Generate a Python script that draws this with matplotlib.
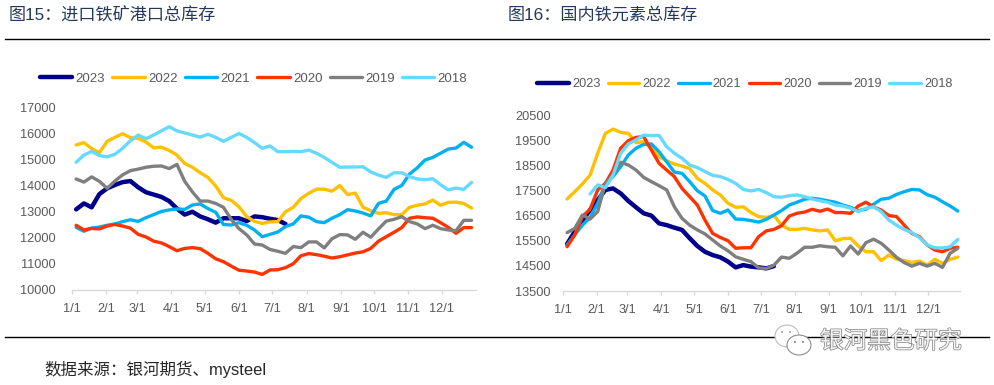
import numpy as np
import matplotlib
matplotlib.use('Agg')
import matplotlib.pyplot as plt
import matplotlib.patheffects as pe
from matplotlib.patches import Ellipse, Circle

plt.rcParams['font.family'] = ['Liberation Sans', 'Noto Sans CJK SC', 'DejaVu Sans']

W, H = 995, 385

# 月初の位置(日)とラベル
month_days = [0, 31, 59, 90, 120, 151, 181, 212, 243, 273, 304, 334]
month_labels = ['1/1', '2/1', '3/1', '4/1', '5/1', '6/1', '7/1', '8/1', '9/1', '10/1', '11/1', '12/1']
week_days = [4 + 7 * i for i in range(52)]

years = ['2023', '2022', '2021', '2020', '2019', '2018']
colors = ['#00008B', '#FFC000', '#00B0F0', '#FF3300', '#7F7F7F', '#66D9FF']
widths = [3.2, 2.4, 2.4, 2.4, 2.4, 2.4]

# 図15 進口铁矿港口总库存
port_2023 = [13100, 13330, 13180, 13690, 13910, 14040, 14150, 14190, 13950, 13760, 13670, 13580, 13420, 13130,
             12900, 13010, 12830, 12720, 12590, 12760, 12760, 12760, 12650, 12830, 12800, 12740, 12690, 12540]
port_2022 = [15580, 15670, 15440, 15280, 15720, 15870, 16010, 15860, 15830, 15690, 15470, 15490, 15370, 15190,
             14870, 14720, 14510, 14330, 14000, 13550, 13450, 13200, 12820, 12640, 12560, 12620, 12630, 13010,
             13180, 13520, 13720, 13880, 13880, 13800, 14020, 13670, 13730, 13180, 13050, 12950, 12970, 12900,
             12900, 13180, 13260, 13310, 13460, 13260, 13370, 13380, 13330, 13150]
port_2021 = [12410, 12260, 12380, 12420, 12490, 12540, 12630, 12700, 12640, 12780, 12900, 13020, 13080, 13120,
             13100, 13270, 13310, 13130, 12990, 12520, 12500, 12590, 12490, 12310, 12050, 12140, 12230, 12440,
             12540, 12850, 12800, 12630, 12590, 12760, 12900, 13090, 13040, 12960, 12850, 13330, 13420, 13870,
             14020, 14460, 14700, 15000, 15100, 15260, 15420, 15460, 15680, 15490]
port_2020 = [12490, 12310, 12370, 12350, 12460, 12520, 12460, 12380, 12140, 12040, 11880, 11810, 11670, 11510,
             11600, 11630, 11590, 11410, 11200, 11090, 10920, 10760, 10730, 10690, 10600, 10770, 10780, 10860,
             11010, 11320, 11400, 11360, 11300, 11230, 11280, 11350, 11420, 11470, 11600, 11880, 12050, 12220,
             12400, 12760, 12810, 12780, 12760, 12590, 12410, 12180, 12400, 12400]
port_2019 = [14270, 14150, 14350, 14180, 13910, 14190, 14430, 14590, 14650, 14720, 14760, 14770, 14670, 14830,
             14180, 13770, 13420, 13420, 13330, 13180, 12720, 12360, 12120, 11770, 11730, 11560, 11490, 11410,
             11670, 11630, 11850, 11850, 11620, 11970, 12130, 12120, 11950, 12220, 12030, 12350, 12650, 12720,
             12820, 12630, 12540, 12360, 12490, 12360, 12310, 12280, 12680, 12680]
port_2018 = [14910, 15190, 15330, 15170, 15120, 15220, 15450, 15740, 15960, 15820, 15960, 16120, 16280, 16120,
             16040, 15960, 15880, 15990, 15870, 15720, 15870, 16020, 15870, 15670, 15450, 15540, 15320, 15320,
             15330, 15320, 15380, 15260, 15100, 14910, 14720, 14730, 14730, 14740, 14540, 14420, 14330, 14510,
             14510, 14360, 14270, 14240, 14280, 14050, 13850, 13920, 13870, 14140]
port_series = [port_2023, port_2022, port_2021, port_2020, port_2019, port_2018]
port_ticks = [10000, 11000, 12000, 13000, 14000, 15000, 16000, 17000]

# 図16 国内铁元素总库存
iron_2023 = [15370, 15860, 16320, 16720, 17120, 17520, 17580, 17380, 17080, 16830, 16590, 16500, 16190, 16120,
             16020, 15930, 15600, 15290, 15060, 14930, 14840, 14670, 14440, 14530, 14470, 14440, 14400, 14490]
iron_2022 = [17160, 17450, 17760, 18110, 18980, 19770, 19940, 19810, 19770, 19400, 19440, 19180, 18840, 18680,
             18550, 18470, 18370, 17980, 17780, 17520, 17320, 16990, 16830, 16850, 16620, 16460, 16430, 16500,
             16120, 15950, 15950, 15990, 15930, 15890, 15930, 15500, 15580, 15600, 15290, 15060, 15060, 14710,
             14930, 14770, 14710, 14640, 14690, 14530, 14760, 14600, 14760, 14850]
iron_2021 = [15330, 15730, 16120, 16420, 16990, 17780, 18050, 18450, 18910, 19180, 19330, 19350, 19040, 18640,
             18230, 18180, 17850, 17490, 17280, 16700, 16590, 16720, 16360, 16350, 16300, 16240, 16350, 16520,
             16700, 16920, 17030, 17150, 17190, 17150, 17090, 17030, 16920, 16830, 16700, 16750, 16950, 17150,
             17190, 17340, 17450, 17540, 17520, 17330, 17230, 17050, 16880, 16680]
iron_2020 = [15260, 15730, 16460, 16750, 17520, 17780, 18310, 19180, 19480, 19610, 19640, 19110, 18580, 18310,
             18050, 17580, 17250, 16920, 16320, 15790, 15630, 15500, 15200, 15220, 15220, 15660, 15890, 15950,
             16100, 16480, 16590, 16640, 16750, 16670, 16760, 16620, 16620, 16590, 16880, 17030, 16850, 16720,
             16500, 16460, 16120, 15790, 15660, 15330, 15130, 15060, 15200, 15240]
iron_2019 = [15820, 15990, 16520, 16360, 16660, 17780, 18110, 18620, 18510, 18310, 18020, 17850, 17690, 17520,
             16850, 16390, 16120, 15930, 15770, 15530, 15290, 15100, 14860, 14760, 14670, 14420, 14390, 14530,
             14850, 14800, 15000, 15240, 15240, 15300, 15260, 15240, 14900, 15290, 14970, 15420, 15560, 15400,
             15130, 14840, 14630, 14490, 14600, 14490, 14600, 14440, 15000, 15200]
iron_2018 = [None, None, None, 17360, 17720, 17610, 18110, 18980, 19350, 19510, 19700, 19680, 19690, 19240,
             18980, 18780, 18510, 18410, 18250, 18100, 18050, 17940, 17780, 17540, 17480, 17540, 17410, 17250,
             17230, 17290, 17320, 17250, 17160, 17090, 17030, 16920, 16880, 16790, 16660, 16790, 16850, 16660,
             16320, 16120, 15950, 15820, 15620, 15330, 15220, 15210, 15260, 15550]
iron_series = [iron_2023, iron_2022, iron_2021, iron_2020, iron_2019, iron_2018]
iron_ticks = [13500, 14500, 15500, 16500, 17500, 18500, 19500, 20500]

fig = plt.figure(figsize=(W / 100, H / 100), dpi=100)


def make_axes(left, right, top, bottom):
    return fig.add_axes([left / W, 1 - bottom / H, (right - left) / W, (bottom - top) / H])


def draw_chart(ax, series, yticks, xmax, ypad):
    for vals, c, lw, name in zip(series, colors, widths, years):
        y = np.array(vals, dtype=float)
        ax.plot(week_days[:len(y)], y, color=c, lw=lw, label=name,
                solid_capstyle='round', solid_joinstyle='round')
    ax.set_xlim(0, xmax)
    ax.set_ylim(yticks[0], yticks[-1])
    ax.set_xticks(month_days)
    ax.set_xticklabels(month_labels)
    ax.set_yticks(yticks)
    for s in ['top', 'right', 'left']:
        ax.spines[s].set_visible(False)
    ax.spines['bottom'].set_color('#D9D9D9')
    ax.spines['bottom'].set_linewidth(1.0)
    ax.tick_params(axis='x', color='#D9D9D9', length=3, width=1, labelsize=9.2, labelcolor='#595959', pad=6.5)
    ax.tick_params(axis='y', length=0, labelsize=9.2, labelcolor='#595959', pad=ypad)
    ax.patch.set_alpha(0)


ax1 = make_axes(71.7, 476, 108, 290)
draw_chart(ax1, port_series, port_ticks, 365, 11.5)
ax2 = make_axes(562.7, 960, 115, 291)
draw_chart(ax2, iron_series, iron_ticks, 363, 8.5)

ax1.legend(loc='center left', bbox_to_anchor=(40 / W, 1 - 78.5 / H), bbox_transform=fig.transFigure,
           ncol=6, frameon=False, fontsize=9.5, labelcolor='#595959', handlelength=2.45, handletextpad=0.25,
           columnspacing=0.55, borderpad=0, borderaxespad=0)
ax2.legend(loc='center left', bbox_to_anchor=(537.5 / W, 1 - 84 / H), bbox_transform=fig.transFigure,
           ncol=6, frameon=False, fontsize=9.2, labelcolor='#595959', handlelength=2.45, handletextpad=0.25,
           columnspacing=0.58, borderpad=0, borderaxespad=0)

# タイトルと罫線
title_color = '#24385C'
fig.text(9 / W, 1 - 15 / H, '图15：进口铁矿港口总库存', fontsize=12.3, color=title_color, va='center')
fig.text(508 / W, 1 - 15 / H, '图16：国内铁元素总库存', fontsize=12.3, color=title_color, va='center')
fig.add_artist(plt.Line2D([5 / W, 989 / W], [1 - 38.5 / H] * 2, color='black', lw=1))
fig.add_artist(plt.Line2D([5 / W, 989 / W], [1 - 337 / H] * 2, color='black', lw=1))
fig.text(44 / W, 1 - 369 / H, '数据来源：银河期货、mysteel', fontsize=11.9, color='#262626', va='center')

# ウォーターマーク
fig.text(820 / W, 1 - 342 / H, '银河黑色研究', fontsize=17, color='#f4f4f4', va='center', zorder=5,
         path_effects=[pe.withStroke(linewidth=1.0, foreground='#808080')])
overlay = fig.add_axes([0, 0, 1, 1], zorder=4)
overlay.set_xlim(0, W)
overlay.set_ylim(H, 0)
overlay.axis('off')
overlay.add_patch(Ellipse((787, 336), 24, 22, fc='white', ec='#BDBDBD', lw=0.8))
overlay.add_patch(Ellipse((799, 345), 24, 20, fc='white', ec='#8C8C8C', lw=0.8))
for cx, cy, c in [(782, 332, '#A6A6A6'), (790, 332, '#A6A6A6'), (795, 342, '#808080'), (803, 342, '#808080')]:
    overlay.add_patch(Circle((cx, cy), 1.0, fc=c, ec='none'))

fig.savefig('out.png', dpi=100)
